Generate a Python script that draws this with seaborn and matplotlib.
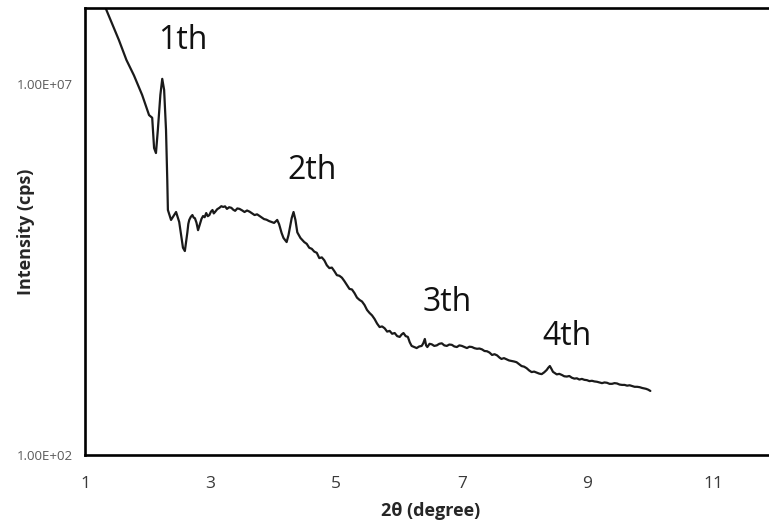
import matplotlib
matplotlib.use("Agg")
import matplotlib.pyplot as plt
import seaborn as sns
import pandas as pd

# XRD scan: 2θ (degree) and measured intensity (cps)
two_theta = [
    1.30, 1.54, 1.66, 1.78, 1.91, 2.02, 2.07, 2.10, 2.13, 2.16, 2.20, 2.23, 2.26, 2.29,
    2.31, 2.32, 2.37, 2.42, 2.45, 2.50, 2.53, 2.56, 2.59,
    2.63, 2.645, 2.66, 2.685, 2.71, 2.73, 2.75, 2.775, 2.80, 2.815, 2.83, 2.855, 2.88,
    2.905, 2.93, 2.955, 2.98, 3.005, 3.03, 3.05, 3.07, 3.105, 3.14, 3.17, 3.20, 3.23,
    3.26, 3.295, 3.33, 3.36, 3.39, 3.425, 3.46, 3.50, 3.54, 3.58, 3.62, 3.66, 3.70,
    3.74, 3.78, 3.815, 3.85, 3.89, 3.93, 3.97, 4.01, 4.035, 4.06, 4.09,
    4.13, 4.16, 4.21, 4.24, 4.29, 4.32, 4.35, 4.38,
    4.43, 4.46, 4.49, 4.53, 4.57, 4.61, 4.65, 4.69, 4.73, 4.77, 4.81, 4.85, 4.89,
    4.93, 4.97, 5.01, 5.05, 5.09, 5.13, 5.17, 5.21, 5.25, 5.29, 5.33, 5.37, 5.41,
    5.45, 5.49, 5.53, 5.57, 5.61, 5.65, 5.69, 5.73, 5.77, 5.81, 5.85, 5.89, 5.93, 5.97,
    6.01, 6.04, 6.07, 6.105, 6.14, 6.17, 6.20, 6.24, 6.28, 6.32, 6.36, 6.385, 6.41,
    6.43, 6.45, 6.485, 6.52, 6.56, 6.60, 6.64, 6.68, 6.72, 6.76, 6.80, 6.84, 6.88,
    6.92, 6.96, 7.00, 7.04, 7.08, 7.12, 7.16, 7.20, 7.24, 7.28, 7.32, 7.36, 7.40,
    7.44, 7.48, 7.52, 7.56, 7.60, 7.63, 7.67, 7.71, 7.75, 7.79, 7.83, 7.87, 7.91,
    7.95, 7.99, 8.03, 8.07, 8.11, 8.15, 8.19, 8.23, 8.27, 8.31, 8.35, 8.375, 8.40,
    8.425, 8.45, 8.48, 8.51, 8.55, 8.59, 8.63, 8.67, 8.71, 8.75, 8.79, 8.83, 8.87,
    8.91, 8.95, 8.99, 9.03, 9.07, 9.11, 9.15, 9.19, 9.23, 9.27, 9.31, 9.35, 9.39,
    9.43, 9.47, 9.51, 9.55, 9.59, 9.63, 9.67, 9.71, 9.75, 9.79, 9.83, 9.87, 9.90,
    9.93, 9.965, 10.00,
]
intensity = [
    1.2e8, 3.9e7, 2.1e7, 1.3e7, 7.1e6, 3.8e6, 3.5e6, 1.37e6, 1.17e6, 2.4e6, 7.1e6, 1.17e7, 8.3e6, 2.4e6,
    5.1e5, 2.0e5, 1.47e5, 1.71e5, 1.88e5, 1.38e5, 9.2e4, 6.2e4, 5.6e4,
    1.0e5, 1.3e5, 1.47e5, 1.62e5, 1.71e5, 1.58e5, 1.55e5, 1.35e5, 1.07e5, 1.18e5, 1.29e5, 1.52e5, 1.66e5,
    1.6e5, 1.82e5, 1.65e5, 1.71e5, 1.9e5, 2.0e5, 1.8e5, 1.88e5, 2.05e5, 2.14e5, 2.25e5, 2.2e5, 2.24e5,
    2.07e5, 2.18e5, 2.14e5, 2.02e5, 1.95e5, 2.1e5, 2.07e5, 1.98e5, 1.88e5, 1.97e5, 1.9e5, 1.8e5, 1.71e5,
    1.75e5, 1.66e5, 1.58e5, 1.51e5, 1.48e5, 1.42e5, 1.38e5, 1.34e5, 1.40e5, 1.47e5, 1.29e5,
    9.8e4, 8.4e4, 7.4e4, 9.2e4, 1.55e5, 1.88e5, 1.47e5, 1.0e5,
    8.4e4, 7.9e4, 7.4e4, 7.0e4, 6.2e4, 6.0e4, 5.5e4, 5.3e4, 4.5e4, 4.6e4, 4.2e4, 3.6e4, 3.3e4,
    3.35e4, 3.0e4, 2.65e4, 2.6e4, 2.45e4, 2.2e4, 1.95e4, 1.73e4, 1.70e4, 1.52e4, 1.32e4, 1.23e4, 1.17e4,
    1.05e4, 9.0e3, 8.2e3, 7.6e3, 6.8e3, 5.9e3, 5.3e3, 5.4e3, 5.1e3, 4.6e3, 4.7e3, 4.3e3, 4.4e3, 4.0e3,
    3.9e3, 4.2e3, 4.4e3, 4.0e3, 3.9e3, 3.3e3, 2.95e3, 2.85e3, 2.76e3, 2.9e3, 2.95e3, 3.2e3, 3.66e3,
    3.0e3, 2.85e3, 3.15e3, 3.1e3, 2.95e3, 3.0e3, 3.15e3, 3.2e3, 3.0e3, 2.95e3, 3.08e3, 3.05e3, 2.9e3,
    2.85e3, 3.0e3, 2.95e3, 2.85e3, 2.76e3, 2.88e3, 2.85e3, 2.75e3, 2.7e3, 2.72e3, 2.65e3, 2.52e3, 2.5e3,
    2.4e3, 2.23e3, 2.28e3, 2.2e3, 2.05e3, 1.97e3, 2.02e3, 1.95e3, 1.88e3, 1.85e3, 1.82e3, 1.78e3, 1.68e3,
    1.58e3, 1.55e3, 1.48e3, 1.38e3, 1.31e3, 1.33e3, 1.29e3, 1.25e3, 1.23e3, 1.3e3, 1.4e3, 1.5e3, 1.58e3,
    1.45e3, 1.32e3, 1.27e3, 1.22e3, 1.24e3, 1.2e3, 1.15e3, 1.14e3, 1.16e3, 1.1e3, 1.07e3, 1.08e3, 1.04e3,
    1.06e3, 1.03e3, 1.02e3, 9.9e2, 1.0e3, 9.8e2, 9.7e2, 9.5e2, 9.3e2, 9.5e2, 9.4e2, 9.1e2, 9.1e2,
    9.3e2, 9.2e2, 8.9e2, 8.8e2, 8.8e2, 8.6e2, 8.7e2, 8.5e2, 8.3e2, 8.3e2, 8.2e2, 8.0e2, 7.9e2,
    7.8e2, 7.6e2, 7.3e2,
]

# Reflection order labels and where they sit
peak_labels = ["1th", "2th", "3th", "4th"]
label_x = [2.55, 4.62, 6.77, 8.67]
label_y = [3.9e7, 6.9e5, 1.15e4, 4.0e3]

x_ticks = [1, 3, 5, 7, 9, 11]
y_ticks = [1e2, 1e7]
y_tick_labels = ["1.00E+02", "1.00E+07"]

sns.set_style("white")
plt.rcParams["font.family"] = ["Open Sans", "DejaVu Sans"]

fig = plt.figure(figsize=(7.69, 5.27), dpi=100)
ax = fig.add_axes([0.1105, 0.1366, 0.8986, 0.848])

df = pd.DataFrame({"two_theta": two_theta, "intensity": intensity})
sns.lineplot(data=df, x="two_theta", y="intensity", ax=ax, color="#1a1a1a",
             linewidth=1.6, sort=False)

ax.set_yscale("log")
ax.set_xlim(1, 12)
ax.set_ylim(1e2, 1.05e8)

ax.set_xticks(x_ticks)
ax.set_xticklabels([str(t) for t in x_ticks], fontsize=12.5, color="#3a3a3a")
ax.set_yticks(y_ticks)
ax.set_yticklabels(y_tick_labels, fontsize=9.5, color="#595959")
ax.minorticks_off()
ax.tick_params(axis="x", direction="out", length=3, width=0.8, color="#d0d0d0", pad=12)
ax.tick_params(axis="y", direction="out", length=3, width=0.8, color="#d0d0d0", pad=6)

for side in ["left", "bottom", "top", "right"]:
    ax.spines[side].set_visible(True)
    ax.spines[side].set_color("black")
    ax.spines[side].set_linewidth(1.9)

ax.set_xlabel("2θ (degree)", fontsize=13, fontweight="bold", color="#262626")
ax.set_ylabel("Intensity (cps)", fontsize=13, fontweight="bold", color="#262626")
ax.xaxis.set_label_coords(0.5, -0.105)
ax.yaxis.set_label_coords(-0.073, 0.5)

for text, tx, ty in zip(peak_labels, label_x, label_y):
    ax.text(tx, ty, text, fontsize=23, ha="center", va="center", color="#111111")

fig.savefig("out.png", dpi=100)
